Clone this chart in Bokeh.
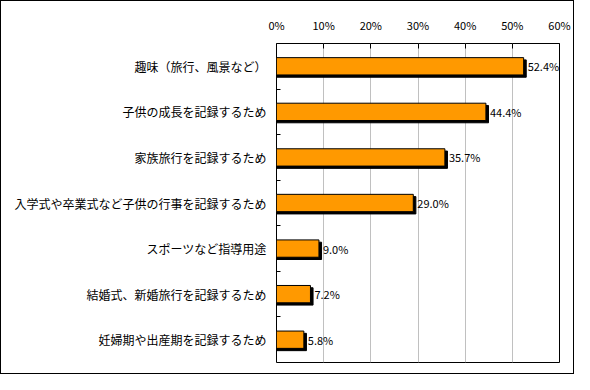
from bokeh.plotting import figure
from bokeh.models import ColumnDataSource, FixedTicker, Range1d, InlineStyleSheet
from bokeh.transform import dodge
from bokeh.core.properties import value
from bokeh.embed import file_html
from bokeh.resources import INLINE

categories = [
    "趣味（旅行、風景など）",
    "子供の成長を記録するため",
    "家族旅行を記録するため",
    "入学式や卒業式など子供の行事を記録するため",
    "スポーツなど指導用途",
    "結婚式、新婚旅行を記録するため",
    "妊婦期や出産期を記録するため",
]
values = [52.4, 44.4, 35.7, 29.0, 9.0, 7.2, 5.8]
tick_vals = [0, 10, 20, 30, 40, 50, 60]
tick_labels = ["0%", "10%", "20%", "30%", "40%", "50%", "60%"]

n = len(categories)
ys = [i + 0.5 for i in range(n)]
boundaries = [float(i) for i in range(1, n)]
src = ColumnDataSource(dict(
    y=ys, value=values, cat=categories,
    label=[f"{v:.1f}%" for v in values],
))

FONT = "Noto Sans CJK JP"
W, H = 574, 374

p = figure(width=W, height=H, output_backend="svg", toolbar_location=None,
           x_range=Range1d(0, 60), y_range=Range1d(n, 0),
           x_axis_location="above",
           min_border_left=276, min_border_right=15,
           min_border_top=43, min_border_bottom=12)
p.background_fill_color = "white"
p.border_fill_color = "white"
p.outline_line_color = "black"
p.outline_line_width = 1
p.stylesheets = [InlineStyleSheet(css=(
    ":host { position: relative; }"
    ":host::after { content: ''; position: absolute; left: 0; top: 0; "
    "right: 0; bottom: 0; border: 1px solid black; "
    "pointer-events: none; z-index: 1000; }"
))]

# x axis (top)
xa = p.xaxis[0]
xa.ticker = FixedTicker(ticks=tick_vals)
xa.major_label_overrides = {v: l for v, l in zip(tick_vals, tick_labels)}
xa.axis_line_color = None
xa.major_tick_in = 5
xa.major_tick_out = 0
xa.major_tick_line_color = "black"
xa.minor_tick_line_color = None
xa.major_label_standoff = 11
xa.major_label_text_font = FONT
xa.major_label_text_font_size = "11px"
xa.major_label_text_color = "black"

# y axis (left)
ya = p.yaxis[0]
ya.ticker = FixedTicker(ticks=ys, minor_ticks=boundaries)
ya.major_label_overrides = {y: c for y, c in zip(ys, categories)}
ya.axis_line_color = None
ya.major_tick_in = 0
ya.major_tick_out = 0
ya.minor_tick_in = 4
ya.minor_tick_out = 0
ya.minor_tick_line_color = "black"
ya.major_label_standoff = 10
ya.major_label_text_font = FONT
ya.major_label_text_font_size = "12px"
ya.major_label_text_color = "black"

p.xgrid.grid_line_color = "#C0C0C0"
p.ygrid.grid_line_color = None

# shadow
p.hbar(y=dodge("y", 0.05, range=p.y_range), left=0,
       right=dodge("value", 0.55, range=p.x_range), height=0.38,
       source=src, fill_color="black", line_color="black")
# bars
p.hbar(y="y", left=0, right="value", height=0.38, source=src,
       fill_color="#FF9900", line_color="black", line_width=1)

p.text(x="value", y="y", text="label", source=src, x_offset=4,
       text_align="left", text_baseline="middle",
       text_font=value(FONT), text_font_size="11px", text_color="black")

open("out.html", "w").write(file_html(p, INLINE))
